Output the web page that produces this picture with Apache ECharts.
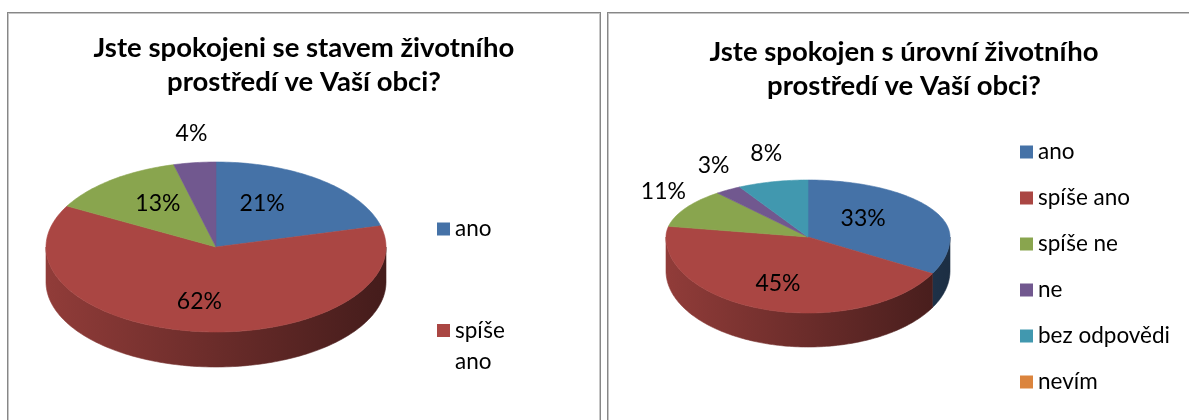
<!DOCTYPE html>
<html>
<head>
<meta charset="utf-8">
<title>Spokojenost s životním prostředím</title>
<script src="https://cdn.jsdelivr.net/npm/echarts@6/dist/echarts.min.js"></script>
<style>
html, body { margin: 0; padding: 0; background: #fff; overflow: hidden; }
body { width: 1189px; height: 420px; position: relative; }
.box { position: absolute; top: 12px; width: 594px; height: 430px; box-sizing: border-box;
       border: 1px solid #878787; box-shadow: inset 0 0 0 1px #c6c6c6; }
.chart { position: absolute; top: 0; width: 594px; height: 420px; }
</style>
</head>
<body>
<div class="box" style="left:7px"></div>
<div class="box" style="left:607px"></div>
<div id="pie1" class="chart" style="left:7px"></div>
<div id="pie2" class="chart" style="left:607px"></div>
<script>
// data
var kategorie1 = ['ano', 'spíše ano', 'spíše ne', 'ne'];
var hodnoty1 = [21, 62, 13, 4];
var legenda1 = ['ano', 'spíše ano'];

var kategorie2 = ['ano', 'spíše ano', 'spíše ne', 'ne', 'bez odpovědi', 'nevím'];
var hodnoty2 = [33, 45, 11, 3, 8, 0];

var barvy = ['#4572A7', '#AA4643', '#89A54E', '#71588F', '#4198AF', '#DB843D'];

var pismo = 'Lato';

// ztmaveni barvy pro bocni stenu
function stin(hex, k) {
    var n = parseInt(hex.slice(1), 16);
    var r = Math.round(((n >> 16) & 255) * k);
    var g = Math.round(((n >> 8) & 255) * k);
    var b = Math.round((n & 255) * k);
    return 'rgb(' + r + ',' + g + ',' + b + ')';
}

// 3D kolac - kazda kategorie je vlastni custom serie (kvuli legende)
function kolac3d(kategorie, hodnoty, geo) {
    var total = 0;
    hodnoty.forEach(function (v) { total += v; });
    var starts = [];
    var acc = 0;
    hodnoty.forEach(function (v) {
        starts.push(acc / total * 2 * Math.PI);
        acc += v;
    });

    function bod(a, k) {
        var c = Math.cos(a);
        var ry = c >= 0 ? geo.ryT : geo.ryB;
        return [geo.cx + geo.rx * k * Math.sin(a), geo.cy - ry * k * c];
    }
    function oblouk(a0, a1, dy) {
        var n = Math.max(2, Math.ceil((a1 - a0) / 0.02));
        var pts = [];
        for (var i = 0; i <= n; i++) {
            var p = bod(a0 + (a1 - a0) * i / n, 1);
            p[1] += dy;
            pts.push(p);
        }
        return pts;
    }

    return kategorie.map(function (jmeno, k) {
        return {
            name: jmeno,
            type: 'custom',
            coordinateSystem: 'none',
            silent: true,
            animation: false,
            itemStyle: { color: barvy[k] },
            data: [[hodnoty[k]]],
            renderItem: function (params, api) {
                var v = hodnoty[k];
                if (!v) return { type: 'group', children: [] };
                var a0 = starts[k];
                var a1 = a0 + v / total * 2 * Math.PI;
                var barva = barvy[k];
                var deti = [];

                // bocni stena (jen predni polovina)
                var s0 = Math.max(a0, Math.PI / 2);
                var s1 = Math.min(a1, 3 * Math.PI / 2);
                if (s1 > s0) {
                    var horni = oblouk(s0, s1, 0);
                    var dolni = oblouk(s0, s1, geo.depth).reverse();
                    var grad = {
                        type: 'linear', global: true,
                        x: geo.cx - geo.rx, y: 0, x2: geo.cx + geo.rx, y2: 0,
                        colorStops: [
                            { offset: 0, color: stin(barva, 0.85) },
                            { offset: 1, color: stin(barva, 0.4) }
                        ]
                    };
                    deti.push({
                        type: 'polygon',
                        shape: { points: horni.concat(dolni) },
                        style: { fill: grad, stroke: grad, lineWidth: 0.6 }
                    });
                }

                // horni plocha
                deti.push({
                    type: 'polygon',
                    shape: { points: [[geo.cx, geo.cy]].concat(oblouk(a0, a1, 0)) },
                    style: { fill: barva, stroke: barva, lineWidth: 0.6 }
                });

                // popisek
                var am = (a0 + a1) / 2;
                var c = Math.cos(am);
                var ry = c >= 0 ? geo.ryT : geo.ryB;
                var lx, ly;
                if (v / total >= 0.12) {
                    lx = geo.cx + geo.rx * 0.5 * Math.sin(am) - 6;
                    ly = geo.cy - ry * 0.65 * c;
                } else {
                    var e = bod(am, 1);
                    lx = e[0] + 26 * Math.sin(am);
                    ly = e[1] - 26 * c - 3;
                }
                deti.push({
                    type: 'text',
                    x: lx,
                    y: ly,
                    style: {
                        text: Math.round(v / total * 100) + '%',
                        fill: '#000',
                        fontSize: 23,
                        fontFamily: pismo,
                        align: 'center',
                        verticalAlign: 'middle'
                    }
                });
                return { type: 'group', children: deti };
            }
        };
    });
}

var titulek = {
    left: 'center',
    padding: 0,
    textStyle: {
        fontFamily: pismo,
        fontWeight: 'bold',
        fontSize: 27.5,
        lineHeight: 34,
        color: '#000'
    }
};

var legendaStyl = {
    orient: 'vertical',
    icon: 'rect',
    itemWidth: 13,
    itemHeight: 13,
    padding: 0,
    selectedMode: false,
    textStyle: { fontFamily: pismo, fontSize: 22.5, lineHeight: 24, color: '#000' }
};

function pieset1() {
    var pie1 = echarts.init(document.getElementById('pie1'));
    pie1.setOption({
        title: Object.assign({}, titulek, {
            text: 'Jste spokojeni se stavem životního\nprostředí ve Vaší obci?',
            top: 31
        }),
        legend: [
            Object.assign({}, legendaStyl, { data: [legenda1[0]], left: 430, top: 217 }),
            Object.assign({}, legendaStyl, {
                data: [legenda1[1]], left: 430, top: 284,
                formatter: function () { return '\nspíše\nano'; },
                textStyle: { fontFamily: pismo, fontSize: 22.5, lineHeight: 31, color: '#000' }
            })
        ],
        series: kolac3d(kategorie1, hodnoty1,
            { cx: 209, cy: 247, rx: 170, ryT: 85, ryB: 85, depth: 35 })
    });
}

function pieset2() {
    var pie2 = echarts.init(document.getElementById('pie2'));
    pie2.setOption({
        title: Object.assign({}, titulek, {
            text: 'Jste spokojen s úrovní životního\nprostředí ve Vaší obci?',
            top: 35
        }),
        legend: Object.assign({}, legendaStyl, {
            data: kategorie2, left: 413, top: 140, itemGap: 22
        }),
        series: kolac3d(kategorie2, hodnoty2,
            { cx: 201, cy: 237, rx: 142, ryT: 57, ryB: 76, depth: 34 })
    });
}

pieset1();
pieset2();
</script>
</body>
</html>
